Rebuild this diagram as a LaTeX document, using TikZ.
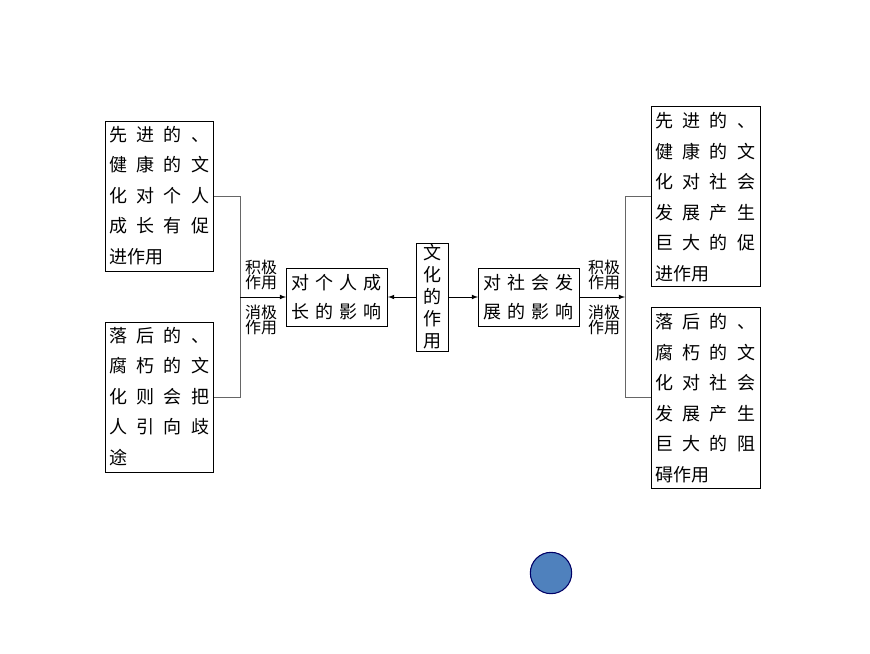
\documentclass[tikz,border=0pt]{standalone}
\usepackage{fontspec}
\newfontfamily\cjk{Noto Sans CJK SC}
\begin{document}
\begin{tikzpicture}[x=0.75pt,y=-0.75pt,
  box/.style={draw,line width=0.8pt,inner sep=0pt},
  ln/.style={anchor=west,inner sep=0pt,font=\cjk\fontsize{13.5}{14}\selectfont},
  lab/.style={font=\cjk\fontsize{12}{11.5}\selectfont,align=center,inner sep=0pt},
  br/.style={draw=gray!80!black,line width=0.6pt},
  arr/.style={-latex,line width=0.6pt}]
\useasboundingbox (0,0) rectangle (870,653);
% left top
\node[box,minimum width=81pt,minimum height=112.5pt,anchor=north west] (lt) at (105,121) {};
\foreach \t [count=\i] in {{先\hfill 进\hfill 的\hfill 、},{健\hfill 康\hfill 的\hfill 文},{化\hfill 对\hfill 个\hfill 人},{成\hfill 长\hfill 有\hfill 促},{进作用}}
  \node[ln] (lt\i) at (109,104+30.5*\i) {\ifnum\i<5 \makebox[75pt][s]{\t}\else\t\fi};
% left bottom
\node[box,minimum width=81pt,minimum height=112.5pt,anchor=north west] (lb) at (105,322) {};
\foreach \t [count=\i] in {{落\hfill 后\hfill 的\hfill 、},{腐\hfill 朽\hfill 的\hfill 文},{化\hfill 则\hfill 会\hfill 把},{人\hfill 引\hfill 向\hfill 歧},{途}}
  \node[ln] (lb\i) at (109,305+30.5*\i) {\ifnum\i<5 \makebox[75pt][s]{\t}\else\t\fi};
% right top
\node[box,minimum width=81.75pt,minimum height=135pt,anchor=north west] (rt) at (651,106) {};
\foreach \t [count=\i] in {{先\hfill 进\hfill 的\hfill 、},{健\hfill 康\hfill 的\hfill 文},{化\hfill 对\hfill 社\hfill 会},{发\hfill 展\hfill 产\hfill 生},{巨\hfill 大\hfill 的\hfill 促},{进作用}}
  \node[ln] (rt\i) at (655,90.5+30.5*\i) {\ifnum\i<6 \makebox[75pt][s]{\t}\else\t\fi};
% right bottom
\node[box,minimum width=81.75pt,minimum height=135.75pt,anchor=north west] (rb) at (651,307) {};
\foreach \t [count=\i] in {{落\hfill 后\hfill 的\hfill 、},{腐\hfill 朽\hfill 的\hfill 文},{化\hfill 对\hfill 社\hfill 会},{发\hfill 展\hfill 产\hfill 生},{巨\hfill 大\hfill 的\hfill 阻},{碍作用}}
  \node[ln] (rb\i) at (655,291.5+30.5*\i) {\ifnum\i<6 \makebox[75pt][s]{\t}\else\t\fi};
% center boxes
\node[box,minimum width=75.75pt,minimum height=43.5pt,anchor=north west] (cl) at (286,268) {};
\node[ln] (cl1) at (291,283) {\makebox[68pt][s]{对\hfill 个\hfill 人\hfill 成}};
\node[ln] (cl2) at (291,312) {\makebox[68pt][s]{长\hfill 的\hfill 影\hfill 响}};
\node[box,minimum width=75.75pt,minimum height=43.5pt,anchor=north west] (cr) at (478,268) {};
\node[ln] (cr1) at (483,283) {\makebox[68pt][s]{对\hfill 社\hfill 会\hfill 发}};
\node[ln] (cr2) at (483,312) {\makebox[68pt][s]{展\hfill 的\hfill 影\hfill 响}};
\node[box,minimum width=24pt,minimum height=81pt,anchor=north west] (c) at (416,243) {};
\node[font=\cjk\fontsize{13.5}{16.5}\selectfont,align=center,inner sep=0pt] (ct) at (432,297) {文\\化\\的\\作\\用};
% brackets
\coordinate (lbA) at (240,196); \coordinate (lbB) at (240,397); \coordinate (lbM) at (240,297);
\draw[br] (lt.east|-lbA) -- (lbA) -- (lbB) -- (lb.east|-lbB);
\draw[arr] (lbM) -- (cl.west|-lbM);
\node[lab] (lp) at (261,275) {积极\\作用};
\node[lab] (ln) at (261,320) {消极\\作用};
\coordinate (rbA) at (625,196); \coordinate (rbB) at (625,397); \coordinate (rbM) at (625,297);
\draw[br] (rt.west|-rbA) -- (rbA) -- (rbB) -- (rb.west|-rbB);
\draw[arr] (cr.east|-rbM) -- (rbM);
\node[lab] (rp) at (604,275) {积极\\作用};
\node[lab] (rn) at (604,320) {消极\\作用};
\draw[arr] (c.west|-lbM) -- (cl.east|-lbM);
\draw[arr] (c.east|-lbM) -- (cr.west|-lbM);
% circle
\node[circle,draw=blue!40!black,fill={rgb,255:red,79;green,129;blue,189},line width=0.8pt,minimum size=31pt,inner sep=0pt] (dot) at (551,573) {};
\end{tikzpicture}
\end{document}
